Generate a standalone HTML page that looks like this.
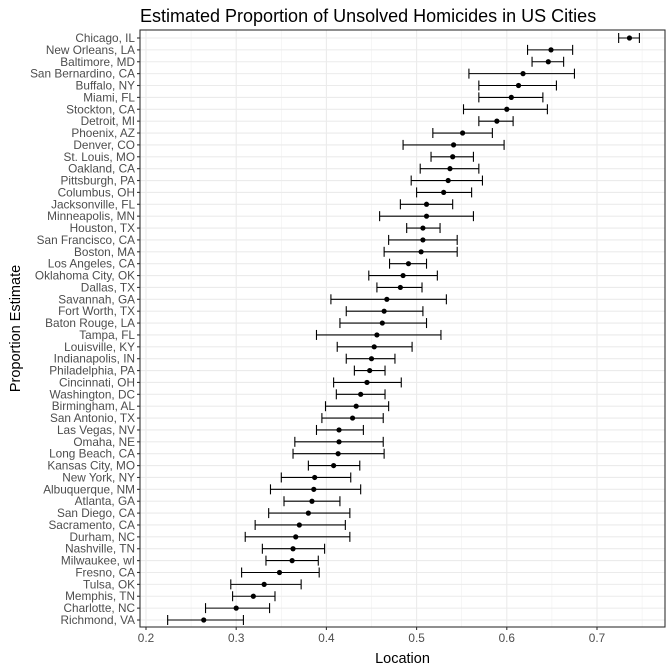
<!DOCTYPE html>
<html><head><meta charset="utf-8"><style>
body{margin:0;background:#fff;}
svg{display:block;font-family:"Liberation Sans",Arial,sans-serif;}
</style></head><body>
<svg id="chart" width="672" height="672"></svg>
<script>
const cities=["Chicago, IL","New Orleans, LA","Baltimore, MD","San Bernardino, CA","Buffalo, NY","Miami, FL","Stockton, CA","Detroit, MI","Phoenix, AZ","Denver, CO","St. Louis, MO","Oakland, CA","Pittsburgh, PA","Columbus, OH","Jacksonville, FL","Minneapolis, MN","Houston, TX","San Francisco, CA","Boston, MA","Los Angeles, CA","Oklahoma City, OK","Dallas, TX","Savannah, GA","Fort Worth, TX","Baton Rouge, LA","Tampa, FL","Louisville, KY","Indianapolis, IN","Philadelphia, PA","Cincinnati, OH","Washington, DC","Birmingham, AL","San Antonio, TX","Las Vegas, NV","Omaha, NE","Long Beach, CA","Kansas City, MO","New York, NY","Albuquerque, NM","Atlanta, GA","San Diego, CA","Sacramento, CA","Durham, NC","Nashville, TN","Milwaukee, wI","Fresno, CA","Tulsa, OK","Memphis, TN","Charlotte, NC","Richmond, VA"];
const estimates=[0.736,0.649,0.646,0.618,0.613,0.605,0.600,0.589,0.551,0.541,0.540,0.537,0.535,0.530,0.511,0.511,0.507,0.507,0.505,0.491,0.485,0.482,0.467,0.464,0.462,0.456,0.453,0.450,0.448,0.445,0.438,0.433,0.429,0.414,0.414,0.413,0.408,0.387,0.386,0.384,0.380,0.370,0.366,0.363,0.362,0.348,0.331,0.319,0.300,0.264];
const lower=[0.724,0.623,0.628,0.558,0.569,0.569,0.552,0.569,0.518,0.485,0.516,0.504,0.494,0.500,0.482,0.459,0.489,0.469,0.464,0.470,0.447,0.456,0.405,0.422,0.415,0.389,0.412,0.422,0.431,0.408,0.411,0.399,0.395,0.389,0.365,0.363,0.380,0.350,0.338,0.353,0.336,0.321,0.310,0.329,0.333,0.306,0.294,0.296,0.266,0.224];
const upper=[0.747,0.673,0.663,0.675,0.655,0.640,0.645,0.607,0.584,0.597,0.563,0.569,0.573,0.561,0.540,0.563,0.526,0.545,0.545,0.511,0.523,0.506,0.533,0.507,0.511,0.527,0.495,0.476,0.465,0.483,0.465,0.469,0.463,0.441,0.463,0.464,0.437,0.427,0.438,0.415,0.426,0.421,0.426,0.398,0.391,0.392,0.372,0.343,0.337,0.308];
const xTicks=[0.2,0.3,0.4,0.5,0.6,0.7];
const xMinor=[0.25,0.35,0.45,0.55,0.65,0.75];

const NS="http://www.w3.org/2000/svg";
const svg=document.getElementById('chart');
const L=140,R=665,T=30,B=627;
const xs=v=>146+(v-0.2)*902;
const ys=i=>38+i*(620-38)/(cities.length-1);
function mk(tag,attrs,parent){const e=document.createElementNS(NS,tag);for(const k in attrs)e.setAttribute(k,attrs[k]);(parent||svg).appendChild(e);return e;}

const bg=mk('rect',{x:L,y:T,width:R-L,height:B-T,fill:'#fff'});



const grid=mk('g',{});


xMinor.forEach(v=>{mk('line',{x1:xs(v),x2:xs(v),y1:T,y2:B,stroke:'#f0f0f0','stroke-width':0.6},grid);});
xTicks.forEach(v=>{mk('line',{x1:xs(v),x2:xs(v),y1:T,y2:B,stroke:'#ebebeb','stroke-width':1.1},grid);});
cities.forEach((c,i)=>{mk('line',{x1:L,x2:R,y1:ys(i),y2:ys(i),stroke:'#ebebeb','stroke-width':1.1},grid);});

const marks=mk('g',{});


cities.forEach((c,i)=>{
  const g=mk('g',{},marks);
  
  
  const y=ys(i),a=xs(lower[i]),b=xs(upper[i]);
  mk('line',{x1:a,x2:b,y1:y,y2:y,stroke:'#000','stroke-width':1.1},g);
  mk('line',{x1:a,x2:a,y1:y-5,y2:y+5,stroke:'#000','stroke-width':1.1},g);
  mk('line',{x1:b,x2:b,y1:y-5,y2:y+5,stroke:'#000','stroke-width':1.1},g);
  const p=mk('circle',{cx:xs(estimates[i]),cy:y,r:2.6,fill:'#000'},g);
  
  
});

const border=mk('rect',{x:L,y:T,width:R-L,height:B-T,fill:'none',stroke:'#333','stroke-width':1.1});



const ylab=mk('g',{});


cities.forEach((c,i)=>{
  mk('line',{x1:L-3,x2:L,y1:ys(i),y2:ys(i),stroke:'#333','stroke-width':1.1},ylab);
  const t=mk('text',{x:L-5,y:ys(i)+4,'text-anchor':'end','font-size':11.8,fill:'#4d4d4d'},ylab);
  t.textContent=c;
});
const xlab=mk('g',{});


xTicks.forEach(v=>{
  mk('line',{x1:xs(v),x2:xs(v),y1:B,y2:B+3,stroke:'#333','stroke-width':1.1},xlab);
  const t=mk('text',{x:xs(v),y:B+15,'text-anchor':'middle','font-size':11.8,fill:'#4d4d4d'},xlab);
  t.textContent=String(v);
});
const xt=mk('text',{x:(L+R)/2,y:663,'text-anchor':'middle','font-size':14.5,fill:'#000'});


xt.textContent='Location';
const yt=mk('text',{x:0,y:0,'text-anchor':'middle','font-size':14.5,fill:'#000',transform:'translate(20,'+((T+B)/2)+') rotate(-90)'});


yt.textContent='Proportion Estimate';
const tt=mk('text',{x:140,y:22,'font-size':18,fill:'#000'});


tt.textContent='Estimated Proportion of Unsolved Homicides in US Cities';
</script>
</body></html>
